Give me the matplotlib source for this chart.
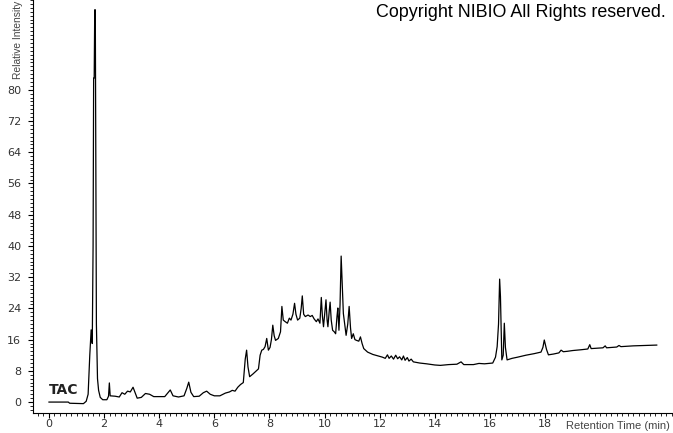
import numpy as np
import matplotlib.pyplot as plt
from matplotlib.ticker import MultipleLocator

# retention time (min) and relative intensity
time = [0.0, 0.7, 0.75, 1.25, 1.35, 1.42, 1.48, 1.53, 1.57, 1.60, 1.62, 1.64,
        1.66, 1.68, 1.70, 1.72, 1.76, 1.80, 1.86, 1.95, 2.10, 2.16, 2.19, 2.22,
        2.40, 2.55, 2.65, 2.75, 2.85, 2.95, 3.05, 3.12, 3.20, 3.35, 3.50, 3.65,
        3.80, 4.20, 4.32, 4.40, 4.50, 4.70, 4.90, 5.00, 5.07, 5.15, 5.25, 5.45,
        5.60, 5.72, 5.85, 6.00, 6.20, 6.40, 6.55, 6.65, 6.75, 6.85, 6.95, 7.05,
        7.12, 7.17, 7.22, 7.28, 7.40, 7.55, 7.60, 7.66, 7.72, 7.78, 7.84, 7.90,
        7.96, 8.02, 8.07, 8.12, 8.17, 8.22, 8.32, 8.40, 8.45, 8.50, 8.57, 8.65,
        8.72, 8.78, 8.85, 8.91, 8.96, 9.02, 9.10, 9.15, 9.19, 9.24, 9.30, 9.40,
        9.48, 9.55, 9.62, 9.70, 9.76, 9.83, 9.88, 9.92, 9.96, 10.02, 10.05,
        10.09, 10.12, 10.17, 10.20, 10.24, 10.29, 10.35, 10.40, 10.45, 10.48,
        10.52, 10.56, 10.60, 10.64, 10.68, 10.73, 10.78, 10.84, 10.89, 10.94,
        10.98, 11.04, 11.10, 11.16, 11.24, 11.30, 11.36, 11.42, 11.56, 11.75,
        11.95, 12.10, 12.20, 12.28, 12.34, 12.42, 12.50, 12.58, 12.65, 12.72,
        12.80, 12.86, 12.92, 13.00, 13.06, 13.14, 13.22, 13.30, 13.45, 13.70,
        14.00, 14.20, 14.50, 14.80, 14.95, 15.05, 15.40, 15.60, 15.80, 16.10,
        16.20, 16.26, 16.31, 16.35, 16.38, 16.43, 16.48, 16.52, 16.56, 16.62,
        16.80, 17.00, 17.30, 17.60, 17.85, 17.92, 17.97, 18.05, 18.12, 18.30,
        18.50, 18.58, 18.66, 18.80, 19.00, 19.30, 19.55, 19.62, 19.67, 20.10,
        20.18, 20.23, 20.60, 20.68, 20.75, 21.20, 21.60, 22.05]
intensity = [0.0, 0.0, -0.3, -0.4, 0.2, 2.0, 12.0, 18.5, 15.0, 40.0, 83.0, 83.0,
             100.5, 100.5, 58.0, 20.0, 6.0, 3.0, 1.2, 0.6, 0.6, 1.5, 4.9, 1.6,
             1.5, 1.3, 2.4, 2.0, 2.8, 2.6, 3.8, 2.5, 1.0, 1.2, 2.2, 2.0,
             1.4, 1.4, 2.4, 3.1, 1.6, 1.3, 1.6, 3.5, 5.1, 2.5, 1.4, 1.5,
             2.4, 2.8, 2.0, 1.6, 1.6, 2.3, 2.6, 3.0, 2.8, 3.8, 4.5, 5.0,
             11.0, 13.3, 9.0, 6.5, 7.2, 8.2, 8.5, 12.0, 13.3, 13.5, 14.2, 16.3,
             13.3, 14.0, 16.0, 19.7, 17.0, 15.8, 16.3, 18.0, 24.5, 21.0, 20.6, 20.2,
             21.5, 21.0, 22.5, 25.3, 22.5, 21.0, 21.5, 24.0, 27.2, 22.5, 21.9, 22.3,
             21.9, 22.2, 21.3, 20.6, 21.3, 20.2, 26.8, 22.0, 19.3, 24.0, 26.2,
             21.0, 19.3, 23.5, 25.6, 21.0, 18.4, 18.0, 17.5, 22.0, 24.1,
             18.4, 25.0, 37.4, 30.0, 22.7, 20.0, 17.1, 20.0, 24.5, 19.0,
             16.3, 17.5, 16.0, 15.8, 15.6, 16.7, 15.0, 13.7, 12.8, 12.2,
             11.8, 11.5, 11.2, 12.1, 11.2, 11.8, 11.0, 12.0, 11.1, 11.6,
             10.8, 11.8, 10.7, 11.4, 10.5, 11.0, 10.3, 10.2, 10.0, 9.8,
             9.5, 9.4, 9.6, 9.7, 10.3, 9.6, 9.6, 9.9, 9.8, 10.0,
             11.5, 14.2, 20.0, 31.5, 27.0, 10.8, 12.0, 20.2, 14.0, 10.8,
             11.2, 11.5, 12.0, 12.4, 12.8, 14.0, 15.9, 13.5, 12.1, 12.3,
             12.6, 13.3, 12.9, 13.0, 13.2, 13.4, 13.6, 14.7, 13.7, 13.9,
             14.4, 13.9, 14.1, 14.5, 14.2, 14.4, 14.5, 14.6]

x_ticks = np.arange(0, 20, 2)
y_ticks = np.arange(0, 81, 8)

fig = plt.figure(figsize=(6.73, 4.33), dpi=100)
ax = fig.add_axes([33/673, 20/433, 640/673, 413/433])

ax.plot(time, intensity, color='black', lw=0.9)

ax.set_xlim(-0.58, 22.64)
ax.set_ylim(-2.8, 103)
ax.set_xticks(x_ticks)
ax.set_yticks(y_ticks)
ax.xaxis.set_minor_locator(MultipleLocator(0.2))
ax.yaxis.set_minor_locator(MultipleLocator(1))

for s in ['top', 'right']:
    ax.spines[s].set_visible(False)
ax.spines['left'].set_linewidth(0.8)
ax.spines['bottom'].set_linewidth(0.8)
ax.tick_params(which='major', length=3.5, width=0.8, labelsize=8,
               labelcolor='#333333')
ax.tick_params(axis='y', which='major', pad=5)
ax.tick_params(axis='x', which='major', pad=1)
ax.tick_params(which='minor', length=2, width=0.6)

ax.text(0.0, 1.2, 'TAC', fontsize=10, fontweight='bold', color='#222222',
        va='bottom', ha='left')

fig.text(18/673, 1 - 79/433, 'Relative Intensity', rotation=90, fontsize=7.4,
         color='#444444', ha='center', va='bottom', family='Liberation Sans')
fig.text(670/673, 2/433, 'Retention Time (min)', fontsize=8,
         color='#444444', ha='right', va='bottom', family='Liberation Sans')
fig.text(666/673, 1 - 4/433, 'Copyright NIBIO All Rights reserved.',
         fontsize=12.9, color='black', ha='right', va='top',
         family='Liberation Sans')

plt.savefig('out.png', dpi=100)
